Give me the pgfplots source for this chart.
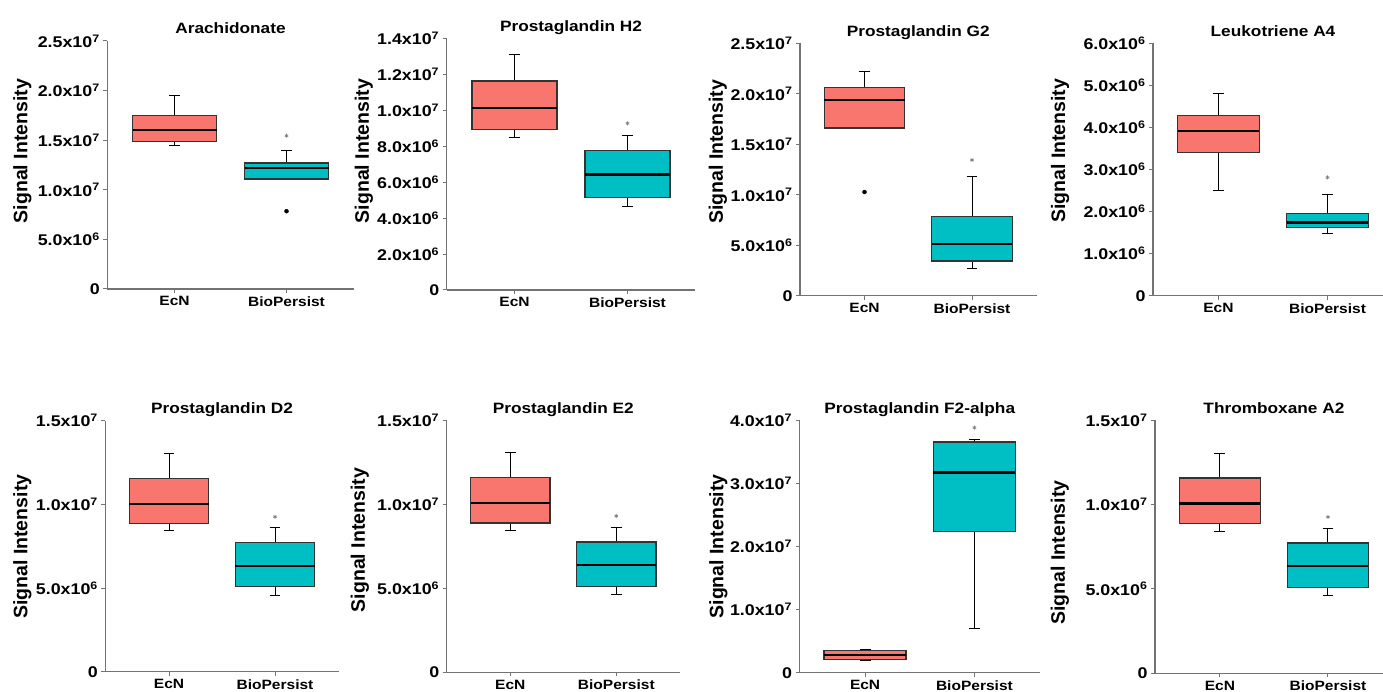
\documentclass[border=0pt]{standalone}
\usepackage{pgfplots}
\pgfplotsset{compat=1.18}
\usepgfplotslibrary{statistics}
\usepackage{fontspec}
\setmainfont{Liberation Sans}[FakeStretch=1.15]
\newfontfamily\ylabfont{Liberation Sans}
\definecolor{ecn}{HTML}{F8766D}
\definecolor{bio}{HTML}{00BFC4}
\definecolor{axgray}{gray}{0.45}
\definecolor{boxedge}{gray}{0.2}
\newcommand{\e}[2]{#1x10\textsuperscript{#2}}
% draw position, lower whisker, lower quartile, median, upper quartile, upper whisker, colour
\newcommand{\bx}[7]{\addplot[boxplot prepared={draw position=#1, lower whisker=#2, lower quartile=#3, median=#4, upper quartile=#5, upper whisker=#6}, boxplot/every box/.style={draw=boxedge, line width=1.3pt, fill=#7}] coordinates {};}
\pgfplotsset{
  panel/.style={
    scale only axis, anchor=south west,
    axis x line=bottom, axis y line=left,
    axis line style={-, draw=axgray, line width=1.3pt},
    tick style={draw=axgray, line width=1pt},
    tick align=outside, major tick length=4pt,
    xmin=0.4, xmax=2.6, ymin=0,
    xtick={1,2}, xticklabels={EcN,BioPersist},
    scaled y ticks=false,
    xticklabel style={font=\fontsize{13.5}{15}\selectfont\bfseries},
    yticklabel style={font=\fontsize{15.5}{17}\selectfont\bfseries},
    title style={font=\fontsize{15}{17}\selectfont\bfseries, at={(0.5,1)}, anchor=base, yshift=1pt},
    ylabel={Signal Intensity},
    clip=false,
    boxplot/draw direction=y,
    boxplot/box extend=0.75,
    boxplot/whisker extend=0.1,
    boxplot/every whisker/.style={draw=black, line width=1pt},
    boxplot/every median/.style={draw=black, line width=2.2pt},
  },
  ylab/.style 2 args={every axis y label/.style={at={(axis description cs:#1,#2)}, rotate=90, anchor=center, font=\ylabfont\fontsize{19.5}{21}\selectfont\bfseries}},
  outl/.style={only marks, mark=*, mark size=2pt, black},
  star/.style={only marks, mark=asterisk, mark size=2pt, draw=gray, mark options={line width=0.7pt}},
}
\begin{document}
\begin{tikzpicture}
\useasboundingbox (0,0) rectangle (1383pt,691pt);
% ---------------- Row 1 ----------------
\begin{axis}[panel, at={(107.3pt,402pt)}, width=246.4pt, height=248pt,
  ymax=2.5e7, ytick={0,5e6,1e7,1.5e7,2e7,2.5e7},
  yticklabels={0,\e{5.0}{6},\e{1.0}{7},\e{1.5}{7},\e{2.0}{7},\e{2.5}{7}},
  title={Arachidonate}, ylab={-0.345}{0.556}]
\bx{1}{1.45e7}{1.49e7}{1.60e7}{1.75e7}{1.947e7}{ecn}
\bx{2}{1.11e7}{1.11e7}{1.223e7}{1.27e7}{1.40e7}{bio}
\addplot[outl] coordinates {(2,7.84e6)};
\addplot[star] coordinates {(2,1.545e7)};
\end{axis}
\begin{axis}[panel, at={(446.7pt,401pt)}, width=248.6pt, height=251.7pt,
  ymax=1.4e7, ytick={0,2e6,4e6,6e6,8e6,1e7,1.2e7,1.4e7},
  yticklabels={0,\e{2.0}{6},\e{4.0}{6},\e{6.0}{6},\e{8.0}{6},\e{1.0}{7},\e{1.2}{7},\e{1.4}{7}},
  title={Prostaglandin H2}, ylab={-0.333}{0.552}]
\bx{1}{8.49e6}{8.92e6}{1.011e7}{1.163e7}{1.311e7}{ecn}
\bx{2}{4.62e6}{5.14e6}{6.42e6}{7.77e6}{8.62e6}{bio}
\addplot[star] coordinates {(2,9.27e6)};
\end{axis}
\begin{axis}[panel, at={(800pt,395.3pt)}, width=236.5pt, height=252.4pt,
  ymax=2.5e7, ytick={0,5e6,1e7,1.5e7,2e7,2.5e7},
  yticklabels={0,\e{5.0}{6},\e{1.0}{7},\e{1.5}{7},\e{2.0}{7},\e{2.5}{7}},
  title={Prostaglandin G2}, ylab={-0.347}{0.57}]
\bx{1}{1.661e7}{1.661e7}{1.942e7}{2.06e7}{2.216e7}{ecn}
\bx{2}{2.71e6}{3.43e6}{5.12e6}{7.83e6}{1.176e7}{bio}
\addplot[outl] coordinates {(1,1.027e7)};
\addplot[star] coordinates {(2,1.344e7)};
\end{axis}
\begin{axis}[panel, at={(1153pt,395.3pt)}, width=240pt, height=252.4pt,
  ymax=6e6, ytick={0,1e6,2e6,3e6,4e6,5e6,6e6},
  yticklabels={0,\e{1.0}{6},\e{2.0}{6},\e{3.0}{6},\e{4.0}{6},\e{5.0}{6},\e{6.0}{6}},
  title={Leukotriene A4}, ylab={-0.3875}{0.574}]
\bx{1}{2.50e6}{3.41e6}{3.92e6}{4.29e6}{4.80e6}{ecn}
\bx{2}{1.47e6}{1.62e6}{1.74e6}{1.95e6}{2.41e6}{bio}
\addplot[star] coordinates {(2,2.81e6)};
\end{axis}
% ---------------- Row 2 ----------------
\begin{axis}[panel, at={(105.4pt,19.3pt)}, width=233.2pt, height=251pt,
  ymax=1.5e7, ytick={0,5e6,1e7,1.5e7},
  yticklabels={0,\e{5.0}{6},\e{1.0}{7},\e{1.5}{7}},
  title={Prostaglandin D2}, ylab={-0.356}{0.498}]
\bx{1}{8.41e6}{8.86e6}{1.004e7}{1.155e7}{1.303e7}{ecn}
\bx{2}{4.56e6}{5.10e6}{6.33e6}{7.71e6}{8.61e6}{bio}
\addplot[star] coordinates {(2,9.26e6)};
\end{axis}
\begin{axis}[panel, at={(446.7pt,18.7pt)}, width=233.2pt, height=252.3pt,
  ymax=1.5e7, ytick={0,5e6,1e7,1.5e7},
  yticklabels={0,\e{5.0}{6},\e{1.0}{7},\e{1.5}{7}},
  title={Prostaglandin E2}, ylab={-0.372}{0.524}]
\bx{1}{8.44e6}{8.88e6}{1.007e7}{1.157e7}{1.304e7}{ecn}
\bx{2}{4.60e6}{5.11e6}{6.40e6}{7.75e6}{8.62e6}{bio}
\addplot[star] coordinates {(2,9.29e6)};
\end{axis}
\begin{axis}[panel, at={(799.5pt,18.3pt)}, width=240.5pt, height=252.7pt,
  ymax=4e7, ytick={0,1e7,2e7,3e7,4e7},
  yticklabels={0,\e{1.0}{7},\e{2.0}{7},\e{3.0}{7},\e{4.0}{7}},
  title={Prostaglandin F2-alpha}, ylab={-0.337}{0.5}]
\bx{1}{1.9e6}{2.06e6}{2.85e6}{3.54e6}{3.69e6}{ecn}
\bx{2}{7.0e6}{2.23e7}{3.17e7}{3.65e7}{3.69e7}{bio}
\addplot[star] coordinates {(2,3.88e7)};
\end{axis}
\begin{axis}[panel, at={(1155pt,17.7pt)}, width=237.8pt, height=253.3pt,
  ymax=1.5e7, ytick={0,5e6,1e7,1.5e7},
  yticklabels={0,\e{5.0}{6},\e{1.0}{7},\e{1.5}{7}},
  title={Thromboxane A2}, ylab={-0.4}{0.477}]
\bx{1}{8.41e6}{8.86e6}{1.005e7}{1.157e7}{1.303e7}{ecn}
\bx{2}{4.58e6}{5.09e6}{6.36e6}{7.72e6}{8.59e6}{bio}
\addplot[star] coordinates {(2,9.26e6)};
\end{axis}
\end{tikzpicture}
\end{document}
